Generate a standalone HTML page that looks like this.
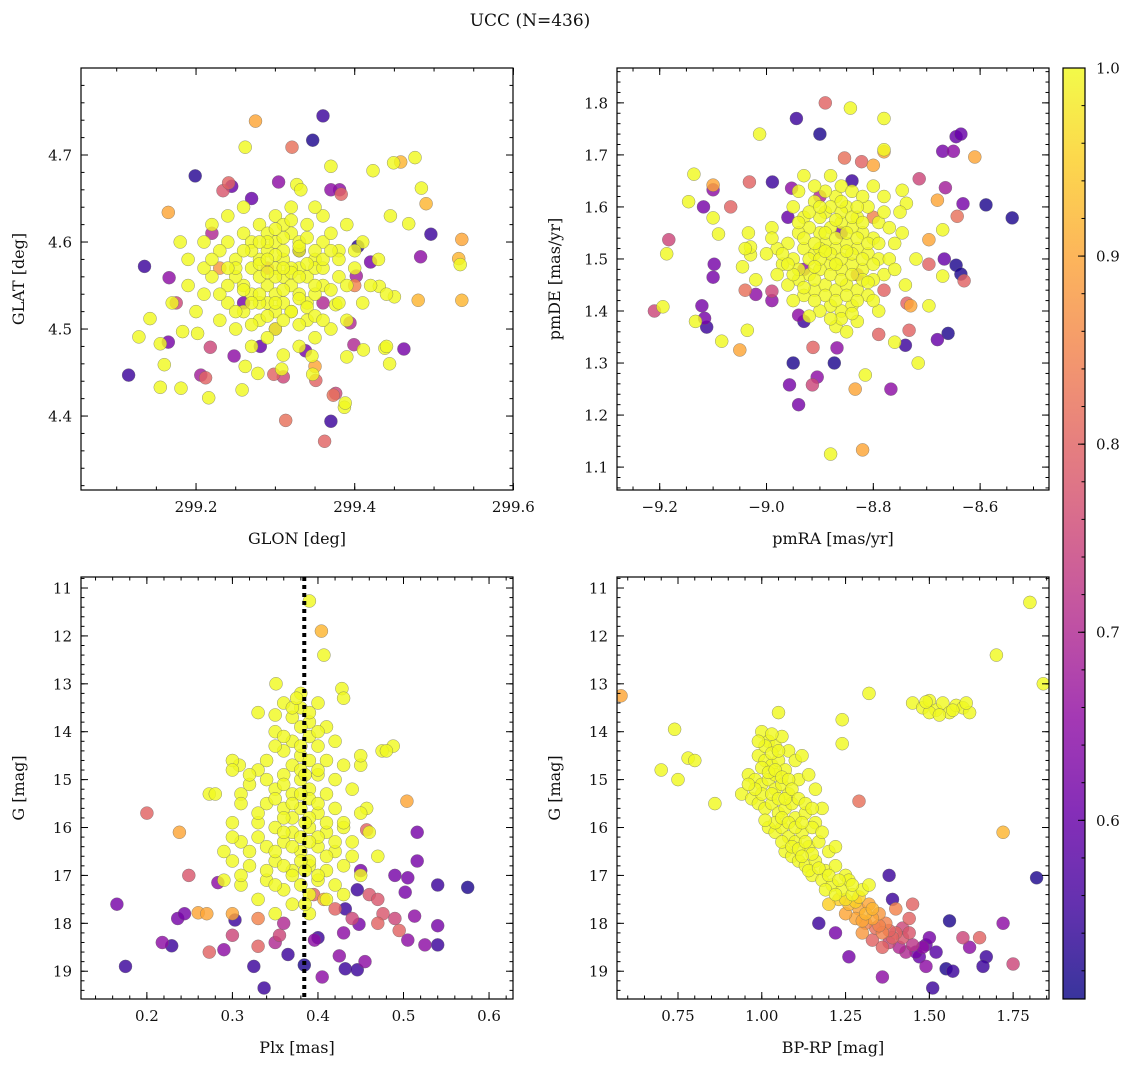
<!DOCTYPE html>
<html><head><meta charset="utf-8"><style>
body{margin:0;background:#fff}
svg text{font-family:"DejaVu Serif","Liberation Serif",serif;fill:#111}
</style></head><body>
<svg id="fig" width="1136" height="1067" xmlns="http://www.w3.org/2000/svg">
<text x="530" y="26" font-size="17" text-anchor="middle">UCC (N=436)</text>
</svg>
<script>
// ---- Data (value, value, membership probability) ----
const glonGlatPts = [
[299.36,4.745,0.55],[299.347,4.717,0.52],[299.275,4.739,0.9],[299.321,4.709,0.82],[299.262,4.709,1],[299.199,4.676,0.53],[299.37,4.687,1],[299.458,4.692,0.92],[299.476,4.697,1],[299.423,4.682,1],[299.449,4.691,1],[299.304,4.669,0.65],[299.327,4.666,1],[299.332,4.66,1],[299.381,4.66,0.65],[299.383,4.655,0.8],[299.245,4.664,0.6],[299.241,4.668,0.8],[299.234,4.659,0.78],[299.484,4.662,1],[299.49,4.644,0.92],[299.165,4.634,0.9],[299.445,4.63,1],[299.468,4.621,1],[299.496,4.609,0.55],[299.535,4.603,0.9],[299.404,4.595,0.53],[299.135,4.572,0.55],[299.166,4.559,0.65],[299.175,4.53,0.75],[299.128,4.491,1],[299.115,4.447,0.55],[299.155,4.483,1],[299.165,4.485,0.62],[299.16,4.459,1],[299.155,4.433,1],[299.181,4.432,1],[299.216,4.421,1],[299.206,4.447,0.68],[299.212,4.444,0.8],[299.218,4.479,0.75],[299.202,4.495,1],[299.248,4.469,0.65],[299.258,4.43,1],[299.262,4.457,1],[299.278,4.449,1],[299.281,4.48,0.6],[299.298,4.448,0.8],[299.31,4.445,0.75],[299.308,4.454,1],[299.313,4.395,0.82],[299.347,4.448,1],[299.351,4.441,0.8],[299.35,4.457,0.9],[299.346,4.469,1],[299.338,4.475,0.62],[299.37,4.394,0.55],[299.362,4.371,0.8],[299.387,4.41,1],[299.388,4.415,1],[299.373,4.424,0.82],[299.376,4.426,0.75],[299.39,4.468,1],[299.399,4.482,0.7],[299.411,4.476,1],[299.438,4.478,1],[299.44,4.48,1],[299.444,4.46,1],[299.462,4.477,0.62],[299.48,4.533,0.92],[299.535,4.533,0.92],[299.531,4.581,0.92],[299.533,4.574,1],[299.483,4.583,0.65],[299.45,4.537,1],[299.431,4.549,1],[299.402,4.561,0.68],[299.42,4.577,0.62],[299.394,4.507,0.7],[299.376,4.528,1],[299.142,4.512,1],[299.183,4.497,1],
[299.24,4.60,1],[299.26,4.61,1],[299.28,4.62,1],[299.30,4.63,1],[299.32,4.64,1],[299.34,4.62,1],[299.36,4.60,1],[299.38,4.59,1],[299.35,4.58,1],[299.33,4.57,1],[299.31,4.56,1],[299.29,4.55,1],[299.27,4.57,1],[299.25,4.58,1],[299.23,4.59,1],[299.22,4.56,1],[299.21,4.54,1],[299.24,4.53,1],[299.26,4.52,1],[299.28,4.51,1],[299.30,4.50,1],[299.32,4.52,1],[299.34,4.53,1],[299.36,4.55,1],[299.38,4.56,1],[299.40,4.57,1],[299.42,4.55,1],[299.41,4.53,1],[299.39,4.51,1],[299.37,4.50,1],[299.35,4.49,1],[299.33,4.48,1],[299.31,4.47,1],[299.29,4.49,1],[299.27,4.48,1],[299.25,4.50,1],[299.23,4.51,1],[299.20,4.52,1],[299.19,4.58,1],[299.18,4.60,1],[299.27,4.60,1],[299.29,4.59,1],[299.31,4.58,1],[299.33,4.59,1],[299.30,4.57,1],[299.32,4.55,1],[299.28,4.56,1],[299.30,4.54,1],[299.34,4.56,1],[299.26,4.55,1],[299.29,4.53,1],[299.31,4.53,1],[299.33,4.54,1],[299.35,4.57,1],[299.27,4.54,1],[299.30,4.60,1],[299.32,4.61,1],[299.28,4.58,1],[299.30,4.56,1],[299.31,4.59,1],[299.29,4.61,1],[299.33,4.60,1],[299.36,4.63,1],[299.26,4.64,1],[299.24,4.63,1],[299.22,4.62,1],[299.37,4.61,1],[299.39,4.62,1],[299.41,4.60,1],[299.43,4.58,1],[299.44,4.54,1],[299.35,4.64,1],[299.31,4.62,1],[299.25,4.56,1],[299.21,4.57,1],[299.28,4.53,1],[299.32,4.57,1],[299.34,4.51,1],[299.30,4.52,1],[299.27,4.505,1],
[299.29,4.60,1],[299.31,4.605,1],[299.33,4.595,1],[299.35,4.59,1],[299.28,4.575,1],[299.30,4.585,1],[299.32,4.565,1],[299.34,4.575,1],[299.36,4.57,1],[299.27,4.59,1],[299.29,4.565,1],[299.31,4.545,1],[299.33,4.535,1],[299.35,4.54,1],[299.37,4.545,1],[299.26,4.545,1],[299.28,4.54,1],[299.30,4.53,1],[299.32,4.52,1],[299.34,4.525,1],[299.29,4.515,1],[299.31,4.51,1],[299.33,4.505,1],[299.35,4.515,1],[299.25,4.57,1],[299.24,4.55,1],[299.38,4.58,1],[299.39,4.55,1],[299.36,4.58,1],[299.30,4.615,1],[299.32,4.625,1],[299.28,4.60,1],[299.26,4.59,1],[299.34,4.605,1],[299.37,4.59,1],[299.23,4.54,1],[299.36,4.51,1],[299.25,4.52,1],[299.22,4.58,1],[299.31,4.57,1],[299.33,4.56,1],[299.29,4.58,1],[299.27,4.53,1],[299.35,4.55,1],[299.38,4.53,1],[299.40,4.59,1],[299.21,4.60,1],[299.24,4.57,1],[299.19,4.55,1],[299.17,4.53,1],
[299.26,4.53,0.62],[299.33,4.59,0.55],[299.30,4.50,0.7],[299.36,4.53,0.7],[299.29,4.57,0.8],[299.27,4.65,0.6],[299.22,4.61,0.7],[299.37,4.66,0.65],[299.40,4.55,0.85],[299.23,4.57,0.88]
];
const pmPts = [
[-8.89,1.80,0.8],[-8.843,1.79,1],[-8.944,1.77,0.55],[-8.78,1.77,1],[-9.013,1.74,1],[-8.90,1.74,0.52],[-8.645,1.735,0.6],[-8.636,1.74,0.6],[-8.78,1.71,1],[-8.80,1.68,0.9],[-8.78,1.706,0.9],[-8.67,1.707,0.62],[-8.65,1.707,0.65],[-8.61,1.696,0.9],[-8.854,1.694,0.82],[-8.822,1.687,0.8],[-9.136,1.663,1],[-8.989,1.648,0.55],[-9.032,1.648,0.8],[-9.10,1.642,0.9],[-9.10,1.633,0.65],[-8.953,1.636,0.65],[-8.714,1.654,0.75],[-8.665,1.637,0.68],[-8.746,1.632,1],[-8.738,1.607,1],[-9.146,1.61,1],[-9.118,1.60,0.62],[-9.067,1.60,0.8],[-9.10,1.579,1],[-8.632,1.606,0.62],[-8.68,1.613,0.9],[-8.589,1.604,0.52],[-8.643,1.582,0.82],[-8.54,1.579,0.52],[-9.183,1.537,0.75],[-9.09,1.548,1],[-9.034,1.55,1],[-8.746,1.55,1],[-8.696,1.537,0.9],[-8.67,1.556,1],[-9.187,1.51,1],[-9.03,1.508,1],[-9.03,1.523,1],[-8.667,1.50,0.6],[-8.645,1.488,0.52],[-8.696,1.49,0.8],[-8.63,1.458,0.8],[-8.67,1.467,1],[-8.636,1.471,0.52],[-9.045,1.485,1],[-9.098,1.49,0.62],[-9.10,1.465,0.62],[-9.04,1.44,0.82],[-8.99,1.438,0.75],[-9.02,1.432,0.65],[-9.194,1.408,1],[-9.21,1.40,0.75],[-9.121,1.41,0.62],[-9.116,1.386,0.62],[-9.133,1.38,1],[-9.112,1.369,0.55],[-9.084,1.342,1],[-9.036,1.363,1],[-8.99,1.42,0.65],[-8.94,1.392,0.65],[-8.93,1.38,0.55],[-9.05,1.325,0.9],[-8.95,1.30,0.52],[-8.873,1.30,0.52],[-8.868,1.329,0.65],[-8.913,1.33,0.8],[-8.815,1.277,1],[-8.957,1.258,0.62],[-8.914,1.258,0.75],[-8.905,1.273,0.65],[-8.834,1.25,0.9],[-8.94,1.22,0.62],[-8.767,1.25,0.65],[-8.79,1.355,0.8],[-8.79,1.40,1],[-8.76,1.34,1],[-8.74,1.334,0.55],[-8.733,1.363,0.8],[-8.716,1.30,1],[-8.66,1.357,0.52],[-8.68,1.345,0.6],[-8.737,1.415,0.8],[-8.73,1.41,0.9],[-8.696,1.41,1],[-8.88,1.125,1],[-8.82,1.133,0.9],
[-8.95,1.60,1],[-8.93,1.58,1],[-8.91,1.61,1],[-8.89,1.59,1],[-8.87,1.62,1],[-8.85,1.60,1],[-8.83,1.58,1],[-8.81,1.60,1],[-8.79,1.57,1],[-8.80,1.54,1],[-8.82,1.55,1],[-8.84,1.56,1],[-8.86,1.57,1],[-8.88,1.56,1],[-8.90,1.55,1],[-8.92,1.56,1],[-8.94,1.55,1],[-8.96,1.53,1],[-8.98,1.52,1],[-8.97,1.49,1],[-8.95,1.50,1],[-8.93,1.52,1],[-8.91,1.51,1],[-8.89,1.53,1],[-8.87,1.52,1],[-8.85,1.53,1],[-8.83,1.52,1],[-8.81,1.51,1],[-8.79,1.50,1],[-8.78,1.47,1],[-8.80,1.46,1],[-8.82,1.48,1],[-8.84,1.49,1],[-8.86,1.48,1],[-8.88,1.49,1],[-8.90,1.48,1],[-8.92,1.47,1],[-8.94,1.46,1],[-8.96,1.45,1],[-8.93,1.43,1],[-8.91,1.44,1],[-8.89,1.45,1],[-8.87,1.44,1],[-8.85,1.45,1],[-8.83,1.44,1],[-8.81,1.43,1],[-8.84,1.41,1],[-8.86,1.40,1],[-8.88,1.41,1],[-8.90,1.40,1],[-8.92,1.39,1],[-8.87,1.37,1],[-8.85,1.36,1],[-8.83,1.38,1],[-8.89,1.63,1],[-8.86,1.64,1],[-8.84,1.63,1],[-8.82,1.62,1],[-8.91,1.64,1],[-8.94,1.63,1],[-8.99,1.56,1],[-9.00,1.51,1],[-8.98,1.47,1],[-8.76,1.53,1],[-8.77,1.56,1],[-8.75,1.59,1],[-8.78,1.62,1],[-8.80,1.64,1],[-8.88,1.51,1],[-8.86,1.50,1],[-8.90,1.52,1],[-8.84,1.51,1],[-8.82,1.46,1],[-8.95,1.42,1],[-8.88,1.66,1],[-8.93,1.66,1],[-9.02,1.46,1],[-9.04,1.52,1],[-8.74,1.45,1],[-8.72,1.50,1],
[-8.93,1.54,1],[-8.91,1.53,1],[-8.89,1.55,1],[-8.87,1.54,1],[-8.85,1.55,1],[-8.83,1.54,1],[-8.81,1.53,1],[-8.92,1.50,1],[-8.90,1.50,1],[-8.88,1.47,1],[-8.86,1.46,1],[-8.84,1.47,1],[-8.82,1.50,1],[-8.80,1.49,1],[-8.94,1.48,1],[-8.91,1.46,1],[-8.89,1.43,1],[-8.87,1.42,1],[-8.85,1.43,1],[-8.83,1.42,1],[-8.90,1.58,1],[-8.88,1.60,1],[-8.86,1.59,1],[-8.84,1.58,1],[-8.82,1.57,1],[-8.92,1.59,1],[-8.94,1.57,1],[-8.87,1.575,1],[-8.85,1.515,1],[-8.89,1.515,1],[-8.93,1.445,1],[-8.97,1.51,1],[-8.95,1.47,1],[-8.81,1.455,1],[-8.79,1.53,1],[-8.77,1.50,1],[-8.86,1.385,1],[-8.88,1.385,1],[-8.84,1.395,1],[-8.91,1.42,1],[-8.80,1.42,1],[-8.78,1.59,1],[-8.90,1.60,1],[-8.86,1.61,1],[-8.96,1.49,1],[-8.99,1.54,1],[-8.76,1.48,1],[-8.83,1.60,1],[-8.87,1.49,1],[-8.91,1.485,1],
[-8.86,1.55,0.62],[-8.83,1.47,0.75],[-8.78,1.44,0.8],[-8.93,1.48,0.65],[-8.80,1.58,0.85],[-8.90,1.62,0.7],[-8.84,1.65,0.55],[-8.96,1.58,0.6]
];
const plxGPts = [
[0.39,11.27,1],[0.404,11.9,0.92],[0.407,12.4,1],[0.351,13.0,1],[0.428,13.1,1],[0.43,13.3,1],[0.20,15.7,0.8],[0.238,16.1,0.9],[0.165,17.6,0.62],[0.249,17.0,0.78],[0.175,18.9,0.55],[0.218,18.4,0.65],[0.229,18.47,0.55],[0.236,17.9,0.62],[0.244,17.8,0.62],[0.26,17.78,0.9],[0.273,18.6,0.8],[0.29,18.55,0.65],[0.27,17.8,0.9],[0.283,17.15,0.65],[0.325,18.9,0.55],[0.337,19.35,0.55],[0.30,18.25,0.75],[0.303,17.93,0.55],[0.33,18.48,0.8],[0.355,18.25,0.75],[0.365,18.65,0.55],[0.384,18.87,0.52],[0.396,18.35,0.65],[0.405,19.12,0.65],[0.425,18.68,0.65],[0.432,18.95,0.55],[0.446,18.97,0.55],[0.455,18.8,0.65],[0.448,18.02,0.62],[0.432,17.7,0.55],[0.446,17.3,0.55],[0.46,17.4,0.78],[0.476,17.8,0.78],[0.49,17.9,0.75],[0.495,18.15,0.8],[0.502,17.35,0.62],[0.505,17.05,0.62],[0.516,16.7,0.62],[0.516,16.1,0.62],[0.54,18.05,0.62],[0.54,18.45,0.55],[0.54,17.2,0.55],[0.525,18.45,0.65],[0.505,18.35,0.65],[0.513,17.85,0.65],[0.575,17.25,0.52],[0.504,15.45,0.9],[0.488,14.3,1],[0.475,14.4,1],[0.45,14.7,1],[0.457,15.6,1],[0.457,16.05,0.8],[0.31,15.3,1],[0.273,15.3,1],[0.308,14.7,1],[0.35,13.65,1],[0.395,17.4,0.8],[0.407,17.5,0.9],
[0.36,13.4,1],[0.38,13.5,1],[0.40,13.4,1],[0.37,13.7,1],[0.39,13.8,1],[0.41,13.9,1],[0.35,14.0,1],[0.37,14.2,1],[0.39,14.1,1],[0.40,14.3,1],[0.42,14.2,1],[0.36,14.4,1],[0.38,14.5,1],[0.34,14.6,1],[0.41,14.6,1],[0.43,14.7,1],[0.33,14.8,1],[0.36,14.9,1],[0.38,15.0,1],[0.40,14.9,1],[0.32,15.1,1],[0.35,15.2,1],[0.37,15.3,1],[0.39,15.2,1],[0.41,15.3,1],[0.44,15.2,1],[0.31,15.5,1],[0.34,15.5,1],[0.36,15.6,1],[0.38,15.6,1],[0.40,15.7,1],[0.42,15.6,1],[0.45,15.7,1],[0.30,15.9,1],[0.33,15.9,1],[0.35,16.0,1],[0.37,16.1,1],[0.39,16.0,1],[0.41,16.1,1],[0.43,16.0,1],[0.46,16.1,1],[0.31,16.3,1],[0.34,16.4,1],[0.36,16.3,1],[0.38,16.5,1],[0.40,16.4,1],[0.42,16.5,1],[0.44,16.3,1],[0.30,16.7,1],[0.32,16.8,1],[0.35,16.7,1],[0.37,16.9,1],[0.39,16.8,1],[0.41,16.9,1],[0.43,16.8,1],[0.47,16.6,1],[0.29,17.1,1],[0.31,17.2,1],[0.34,17.1,1],[0.36,17.3,1],[0.38,17.2,1],[0.40,17.1,1],[0.42,17.2,1],[0.45,17.0,1],[0.33,17.5,1],[0.37,17.6,1],[0.41,17.5,1],[0.39,17.8,1],[0.35,17.8,1],[0.38,13.2,1],[0.33,13.6,1],[0.30,14.6,1],[0.30,14.8,1],[0.28,15.3,1],[0.45,14.5,1],[0.48,14.4,1],[0.39,16.7,1],[0.37,15.8,1],[0.35,14.3,1],[0.43,15.9,1],
[0.37,13.5,1],[0.39,13.6,1],[0.38,13.9,1],[0.36,14.1,1],[0.40,14.0,1],[0.38,14.3,1],[0.39,14.6,1],[0.37,14.7,1],[0.40,14.8,1],[0.38,14.8,1],[0.36,15.1,1],[0.39,15.4,1],[0.37,15.5,1],[0.40,15.5,1],[0.38,15.3,1],[0.36,15.8,1],[0.39,15.8,1],[0.41,15.9,1],[0.38,16.2,1],[0.36,16.1,1],[0.40,16.2,1],[0.37,16.4,1],[0.39,16.3,1],[0.35,16.5,1],[0.41,16.6,1],[0.38,16.7,1],[0.36,16.8,1],[0.40,17.0,1],[0.37,17.0,1],[0.39,17.4,1],[0.35,17.2,1],[0.33,16.2,1],[0.32,16.5,1],[0.34,16.9,1],[0.42,16.3,1],[0.43,17.4,1],[0.31,17.0,1],[0.33,15.7,1],[0.35,15.4,1],[0.42,15.0,1],[0.34,15.0,1],[0.32,14.9,1],[0.44,16.6,1],[0.30,16.2,1],[0.29,16.5,1],[0.385,14.9,1],[0.385,15.9,1],[0.385,16.9,1],[0.385,17.6,1],[0.375,13.3,1],
[0.42,17.7,0.8],[0.44,17.9,0.75],[0.47,17.5,0.78],[0.33,17.9,0.85],[0.30,17.8,0.9],[0.36,18.0,0.7],[0.40,18.3,0.55],[0.43,18.2,0.65],[0.35,18.4,0.7],[0.47,18.0,0.8],[0.45,16.9,0.62],[0.49,17.0,0.62]
];
const cmdPts = [
[1.80,11.3,1],[1.90,11.9,0.92],[1.70,12.4,1],[1.84,13.0,1],[0.58,13.25,0.9],[1.32,13.2,1],[1.24,13.75,1],[1.24,14.25,1],[1.72,16.1,0.92],[1.29,15.45,0.82],[1.05,13.6,1],[0.74,13.95,1],[0.70,14.8,1],[0.78,14.55,1],[0.80,14.6,1],[0.86,15.5,1],[0.75,15.0,1],
[1.82,17.05,0.52],[1.75,18.85,0.75],[1.72,18.0,0.65],[1.67,18.7,0.55],[1.66,18.9,0.55],[1.62,18.5,0.65],[1.60,18.3,0.75],[1.65,18.3,0.8],[1.57,19.0,0.55],[1.55,18.95,0.52],[1.51,19.35,0.55],[1.56,17.95,0.52],[1.49,18.9,0.65],[1.36,19.12,0.65],[1.26,18.7,0.62],[1.22,18.2,0.62],[1.17,18.0,0.55],[1.39,17.5,0.55],[1.38,17.0,0.55],[1.45,17.6,0.8],
[1.00,14.0,1],[1.02,14.2,1],[1.04,14.3,1],[1.06,14.1,1],[1.08,14.4,1],[0.99,14.5,1],[1.01,14.6,1],[1.03,14.7,1],[1.05,14.6,1],[1.07,14.8,1],[1.10,14.6,1],[1.12,14.5,1],[0.96,14.9,1],[0.98,15.0,1],[1.00,15.1,1],[1.02,15.0,1],[1.04,15.2,1],[1.06,15.1,1],[1.08,15.3,1],[1.11,15.0,1],[1.14,14.9,1],[1.16,15.2,1],[0.94,15.3,1],[0.97,15.4,1],[0.99,15.5,1],[1.01,15.6,1],[1.03,15.5,1],[1.05,15.7,1],[1.07,15.6,1],[1.10,15.8,1],[1.13,15.7,1],[1.16,15.9,1],[1.18,15.6,1],
[1.02,16.0,1],[1.04,16.1,1],[1.06,16.0,1],[1.08,16.2,1],[1.10,16.3,1],[1.12,16.1,1],[1.14,16.4,1],[1.17,16.3,1],[1.20,16.5,1],[1.07,16.5,1],[1.09,16.6,1],[1.11,16.7,1],[1.13,16.8,1],[1.16,16.7,1],[1.19,16.9,1],[1.22,16.8,1],[1.25,17.0,1],[1.15,17.0,1],[1.18,17.1,1],[1.21,17.2,1],
[1.24,17.3,1],[1.27,17.4,1],[1.30,17.3,1],[1.23,17.5,0.95],[1.26,17.6,0.92],[1.29,17.7,0.9],[1.32,17.6,0.9],[1.35,17.8,0.88],[1.28,17.9,0.9],[1.31,18.0,0.85],[1.34,18.1,0.82],[1.37,18.0,0.85],[1.40,18.2,0.8],[1.30,18.2,0.88],[1.33,18.35,0.8],[1.38,18.4,0.75],[1.42,18.3,0.78],[1.45,18.45,0.72],[1.48,18.5,0.65],[1.50,18.3,0.62],[1.52,18.6,0.58],[1.47,18.7,0.6],[1.43,18.6,0.7],[1.36,18.5,0.8],[1.40,17.7,0.85],[1.44,17.9,0.8],[1.42,18.1,0.75],[1.26,17.1,1],[1.22,16.4,1],[1.04,14.9,1],[1.00,15.3,1],[1.09,15.5,1],[1.15,16.0,1],[1.32,17.2,1],[1.20,17.6,0.95],[1.25,17.8,0.9],
[1.01,14.3,1],[1.03,14.45,1],[1.05,14.4,1],[1.00,14.75,1],[1.02,14.85,1],[1.04,14.8,1],[1.06,14.95,1],[1.08,15.0,1],[1.03,15.3,1],[1.05,15.4,1],[1.07,15.4,1],[1.09,15.2,1],[1.11,15.4,1],[1.04,15.9,1],[1.06,15.8,1],[1.08,15.9,1],[1.10,16.0,1],[1.12,15.9,1],[1.06,16.3,1],[1.09,16.4,1],[1.11,16.45,1],[1.13,16.3,1],[1.15,16.55,1],[1.12,16.6,1],[1.14,16.9,1],[1.17,16.85,1],[1.20,17.0,1],[1.23,17.1,1],[1.19,17.3,1],[1.22,17.4,1],[1.25,17.5,0.97],[1.28,17.55,0.95],[1.27,17.2,1],[1.29,17.45,0.95],[1.31,17.8,0.92],[1.33,17.9,0.9],[1.36,18.2,0.85],[1.39,18.3,0.8],[1.41,18.5,0.7],[1.44,18.2,0.78],[1.46,18.6,0.62],[1.49,18.45,0.6],[1.33,17.7,0.92],[1.30,17.95,0.9],[1.35,18.05,0.85],[1.38,18.15,0.8],[0.98,15.2,1],[0.96,15.1,1],[1.13,15.5,1],[1.15,15.6,1],[1.18,16.1,1],[1.01,15.85,1],[0.99,14.2,1],[1.03,14.05,1],
[1.45,13.4,1],[1.48,13.5,1],[1.50,13.35,1],[1.52,13.55,1],[1.54,13.4,1],[1.56,13.6,1],[1.58,13.45,1],[1.60,13.5,1],[1.62,13.6,1],[1.50,13.6,1],[1.53,13.65,1],[1.49,13.38,1],[1.57,13.55,1],[1.61,13.4,1]
];
const glonTicks = [299.2, 299.4, 299.6];
const glatTicks = [4.4, 4.5, 4.6, 4.7];
const pmraTicks = [-9.2, -9.0, -8.8, -8.6];
const pmdeTicks = [1.1, 1.2, 1.3, 1.4, 1.5, 1.6, 1.7, 1.8];
const plxTicks = [0.2, 0.3, 0.4, 0.5, 0.6];
const gTicks = [11, 12, 13, 14, 15, 16, 17, 18, 19];
const bprpTicks = [0.75, 1.00, 1.25, 1.50, 1.75];
const cbarTicks = [0.6, 0.7, 0.8, 0.9, 1.0];
const plxMedian = 0.384;

const NS = 'http://www.w3.org/2000/svg';
const svg = document.getElementById('fig');
function mk(tag, attrs, parent) {
  const e = document.createElementNS(NS, tag);
  for (const k in attrs) e.setAttribute(k, attrs[k]);
  (parent || svg).appendChild(e);
  return e;
}
const VMIN = 0.505, VMAX = 1.0;
const stops = ['#0d0887','#41049d','#6a00a8','#8f0da4','#b12a90','#cc4778','#e16462','#f2844b','#fca636','#fcce25','#f0f921'];
function hex(h){return [parseInt(h.substr(1,2),16),parseInt(h.substr(3,2),16),parseInt(h.substr(5,2),16)];}
function plasma(t){
  t = Math.max(0, Math.min(1, t));
  const f = t * 10, i = Math.min(9, Math.floor(f)), r = f - i;
  const a = hex(stops[i]), b = hex(stops[i+1]);
  return 'rgb(' + a.map((v,k)=>Math.round(v + (b[k]-v)*r)).join(',') + ')';
}
function fmt(v, d){return v.toFixed(d).replace('-', '\u2212');}

function panel(cfg) {
  const g = mk('g', {});
  
  
  const X = v => cfg.x0 + (v - cfg.xmin) / (cfg.xmax - cfg.xmin) * cfg.w;
  const Y = cfg.inv ? v => cfg.y0 + (v - cfg.ymin) / (cfg.ymax - cfg.ymin) * cfg.h
                    : v => cfg.y0 + cfg.h - (v - cfg.ymin) / (cfg.ymax - cfg.ymin) * cfg.h;
  const clipId = 'clip-' + cfg.name;
  const cp = mk('clipPath', {id: clipId}, g);
  mk('rect', {x: cfg.x0, y: cfg.y0, width: cfg.w, height: cfg.h}, cp);
  const pts = mk('g', {'clip-path': 'url(#' + clipId + ')'}, g);
  
  
  const sorted = cfg.data.slice().sort((a, b) => a[2] - b[2]);
  sorted.forEach(p => {
    const c = mk('circle', {cx: X(p[0]).toFixed(1), cy: Y(p[1]).toFixed(1), r: 6.5,
      fill: plasma((p[2] - VMIN) / (VMAX - VMIN)), 'fill-opacity': 0.82, stroke: '#666', 'stroke-width': 0.5, 'stroke-opacity': 0.7}, pts);
    
    
  });
  if (cfg.vline !== undefined) {
    const l = mk('line', {x1: X(cfg.vline), x2: X(cfg.vline), y1: cfg.y0, y2: cfg.y0 + cfg.h, stroke: '#000', 'stroke-width': 4, 'stroke-dasharray': '4,4'}, g);
    
    
  }
  mk('rect', {x: cfg.x0, y: cfg.y0, width: cfg.w, height: cfg.h, fill: 'none', stroke: '#000', 'stroke-width': 1.2}, g);
  function ticksX(vals, len) {
    vals.forEach(v => {
      const x = X(v); if (x < cfg.x0 - 0.5 || x > cfg.x0 + cfg.w + 0.5) return;
      mk('line', {x1: x, x2: x, y1: cfg.y0 + cfg.h, y2: cfg.y0 + cfg.h - len, stroke: '#000', 'stroke-width': 1}, g);
      mk('line', {x1: x, x2: x, y1: cfg.y0, y2: cfg.y0 + len, stroke: '#000', 'stroke-width': 1}, g);
    });
  }
  function ticksY(vals, len) {
    vals.forEach(v => {
      const y = Y(v); if (y < cfg.y0 - 0.5 || y > cfg.y0 + cfg.h + 0.5) return;
      mk('line', {x1: cfg.x0, x2: cfg.x0 + len, y1: y, y2: y, stroke: '#000', 'stroke-width': 1}, g);
      mk('line', {x1: cfg.x0 + cfg.w, x2: cfg.x0 + cfg.w - len, y1: y, y2: y, stroke: '#000', 'stroke-width': 1}, g);
    });
  }
  const minX = [], minY = [];
  for (let v = cfg.xticks[0] - 10 * cfg.xminor; v <= cfg.xticks[cfg.xticks.length - 1] + 10 * cfg.xminor; v += cfg.xminor) minX.push(v);
  for (let v = cfg.yticks[0] - 10 * cfg.yminor; v <= cfg.yticks[cfg.yticks.length - 1] + 10 * cfg.yminor; v += cfg.yminor) minY.push(v);
  ticksX(minX, 3.5); ticksY(minY, 3.5);
  ticksX(cfg.xticks, 7); ticksY(cfg.yticks, 7);
  cfg.xticks.forEach(v => {
    const t = mk('text', {x: X(v), y: cfg.y0 + cfg.h + 22, 'font-size': 15, 'text-anchor': 'middle'}, g);
    t.textContent = fmt(v, cfg.xd);
    
    
  });
  cfg.yticks.forEach(v => {
    const t = mk('text', {x: cfg.x0 - 9, y: Y(v) + 5.5, 'font-size': 15, 'text-anchor': 'end'}, g);
    t.textContent = fmt(v, cfg.yd);
    
    
  });
  const xl = mk('text', {x: cfg.x0 + cfg.w / 2, y: cfg.y0 + cfg.h + 54, 'font-size': 16, 'text-anchor': 'middle'}, g);
  xl.textContent = cfg.xlabel;
  
  
  const yx = cfg.x0 - 57, yy = cfg.y0 + cfg.h / 2;
  const yl = mk('text', {x: yx, y: yy, 'font-size': 16, 'text-anchor': 'middle', transform: 'rotate(-90 ' + yx + ' ' + yy + ')'}, g);
  yl.textContent = cfg.ylabel;
  
  
}

panel({name: 'glon-glat-panel', x0: 81, y0: 68, w: 432, h: 422, xmin: 299.055, xmax: 299.5995, ymin: 4.315, ymax: 4.8,
  xticks: glonTicks, yticks: glatTicks, xminor: 0.05, yminor: 0.02, xd: 1, yd: 1, data: glonGlatPts, xlabel: 'GLON [deg]', ylabel: 'GLAT [deg]'});
panel({name: 'pm-panel', x0: 617, y0: 68, w: 432, h: 422, xmin: -9.28, xmax: -8.471, ymin: 1.056, ymax: 1.867,
  xticks: pmraTicks, yticks: pmdeTicks, xminor: 0.05, yminor: 0.02, xd: 1, yd: 1, data: pmPts, xlabel: 'pmRA [mas/yr]', ylabel: 'pmDE [mas/yr]'});
panel({name: 'plx-g-panel', x0: 81, y0: 577, w: 432, h: 422, xmin: 0.123, xmax: 0.628, ymin: 10.77, ymax: 19.58, inv: true,
  xticks: plxTicks, yticks: gTicks, xminor: 0.02, yminor: 0.2, xd: 1, yd: 0, data: plxGPts, vline: plxMedian, xlabel: 'Plx [mas]', ylabel: 'G [mag]'});
panel({name: 'cmd-panel', x0: 617, y0: 577, w: 432, h: 422, xmin: 0.568, xmax: 1.857, ymin: 10.77, ymax: 19.58, inv: true,
  xticks: bprpTicks, yticks: gTicks, xminor: 0.05, yminor: 0.2, xd: 2, yd: 0, data: cmdPts, xlabel: 'BP-RP [mag]', ylabel: 'G [mag]'});

(function(){
  const cx = 1063, cy = 68, cw = 22, ch = 931;
  const g = mk('g', {});
  
  
  const defs = mk('defs', {}, g);
  const lg = mk('linearGradient', {id: 'cbgrad', x1: 0, y1: 1, x2: 0, y2: 0}, defs);
  for (let i = 0; i <= 20; i++) {
    mk('stop', {offset: (i / 20), 'stop-color': plasma(i / 20), 'stop-opacity': 0.82}, lg);
  }
  mk('rect', {x: cx, y: cy, width: cw, height: ch, fill: 'url(#cbgrad)', stroke: '#000', 'stroke-width': 1.2}, g);
  const Yc = v => cy + ch - (v - VMIN) / (VMAX - VMIN) * ch;
  for (let v = 0.52; v <= 1.0001; v += 0.02) {
    const y = Yc(v);
    mk('line', {x1: cx + cw, x2: cx + cw - 3.5, y1: y, y2: y, stroke: '#000', 'stroke-width': 1}, g);
  }
  cbarTicks.forEach(v => {
    const y = Yc(v);
    mk('line', {x1: cx + cw, x2: cx + cw - 7, y1: y, y2: y, stroke: '#000', 'stroke-width': 1}, g);
    const t = mk('text', {x: cx + cw + 11, y: y + 5.5, 'font-size': 15}, g);
    t.textContent = v.toFixed(1);
    
    
  });
})();
</script>
</body></html>
